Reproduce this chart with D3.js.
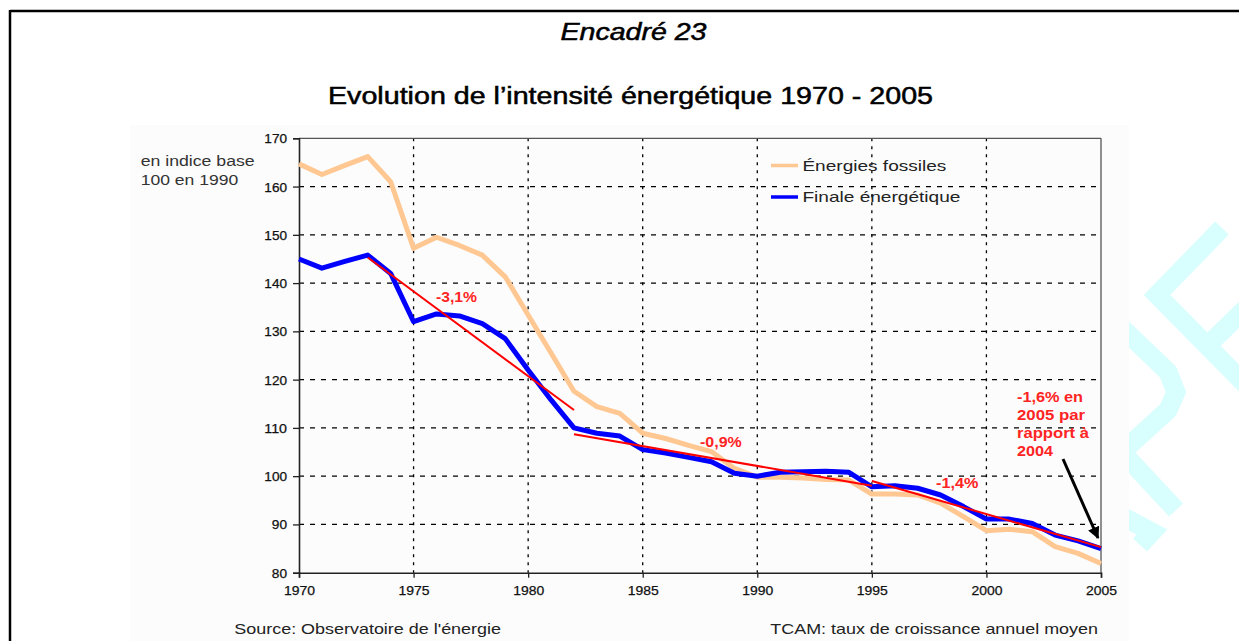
<!DOCTYPE html>
<html>
<head>
<meta charset="utf-8">
<script src="https://cdn.jsdelivr.net/npm/d3@7"></script>
<style>
html,body{margin:0;padding:0;background:#fff;}
svg{display:block;font-family:"Liberation Sans",Arial,sans-serif;}
</style>
</head>
<body>
<svg id="chart" width="1239" height="641"></svg>
<script>
// ---- data ----
const years = [1970,1971,1972,1973,1974,1975,1976,1977,1978,1979,1980,1981,1982,1983,1984,1985,1986,1987,1988,1989,1990,1991,1992,1993,1994,1995,1996,1997,1998,1999,2000,2001,2002,2003,2004,2005];
const fossiles = [164.7,162.5,164.4,166.2,161.0,147.2,149.5,147.8,145.8,141.3,133.4,125.5,117.6,114.4,113.0,108.9,107.8,106.4,105.1,101.6,99.8,99.8,99.6,99.3,99.2,96.3,96.3,96.1,94.4,91.6,88.7,89.0,88.5,85.4,84.0,81.9];
const finale = [145.0,143.1,144.5,145.8,142.0,132.0,133.6,133.2,131.6,128.5,122.0,115.8,110.0,108.9,108.3,105.5,104.8,103.9,103.0,100.6,100.0,100.8,100.9,101.0,100.8,97.8,98.0,97.5,96.1,93.7,91.1,91.1,90.2,87.8,86.6,85.0];
const trendStartYear = [1973,1982,1995];
const trendEndYear = [1982,1995,2005];
const trendStartVal = [145.3,108.7,99.0];
const trendEndVal = [113.7,98.0,85.3];
const trendLabels = ["-3,1%","-0,9%","-1,4%"];
const yTicks = [80,90,100,110,120,130,140,150,160,170];
const xTicks = [1970,1975,1980,1985,1990,1995,2000,2005];
const seriesNames = ["Énergies fossiles","Finale énergétique"];

const svg = d3.select("#chart");
const x = d3.scaleLinear().domain([1970,2005]).range([299,1101]);
const y = d3.scaleLinear().domain([80,170]).range([572.7,138.3]);

// watermark (behind chart image)
const wm = svg.append("g").attr("fill","none").attr("stroke","#d9fefe").attr("stroke-width",19).attr("stroke-linejoin","miter");
wm.append("polyline").attr("points","1222,228 1157,295 1245,384");
wm.append("polyline").attr("points","1208,345 1245,309");
wm.append("polyline").attr("points","1120,326 1168,372 1176,392 1168,410 1122,452 1176,510");
wm.append("polyline").attr("points","1120,515 1152,532 1140,545");

// chart image background
svg.append("rect").attr("x",130).attr("y",125).attr("width",999).attr("height",516).attr("fill","#fcfcfc");

// frame
svg.append("line").attr("x1",10).attr("x2",1239).attr("y1",11).attr("y2",11).attr("stroke","#000").attr("stroke-width",2.5);
svg.append("line").attr("x1",10).attr("x2",10).attr("y1",10).attr("y2",641).attr("stroke","#000").attr("stroke-width",2.5);

// titles
svg.append("text").attr("x",633.5).attr("y",40).attr("text-anchor","middle")
  .attr("font-size",23).attr("font-style","italic").attr("fill","#000")
  .attr("stroke","#000").attr("stroke-width",0.5)
  .attr("textLength",146).attr("lengthAdjust","spacingAndGlyphs").text("Encadré 23");
svg.append("text").attr("x",630.5).attr("y",103.5).attr("text-anchor","middle")
  .attr("font-size",23).attr("fill","#000").attr("stroke","#000").attr("stroke-width",0.5)
  .attr("textLength",605).attr("lengthAdjust","spacingAndGlyphs").text("Evolution de l’intensité énergétique 1970 - 2005");

// gridlines
const grid = svg.append("g");
grid.selectAll("line.h").data(yTicks.filter(d=>d>80 && d<170)).join("line")
  .attr("x1",x(1970)).attr("x2",x(2005)).attr("y1",d=>y(d)).attr("y2",d=>y(d))
  .attr("stroke","#000").attr("stroke-width",1.3).attr("stroke-dasharray","5,6");
grid.selectAll("line.v").data(xTicks.filter(d=>d>1970 && d<2005)).join("line")
  .attr("x1",d=>x(d)).attr("x2",d=>x(d)).attr("y1",y(170)).attr("y2",y(80))
  .attr("stroke","#000").attr("stroke-width",1.3).attr("stroke-dasharray","3,5");

// plot border top/right
svg.append("line").attr("x1",x(1970)).attr("x2",x(2005)).attr("y1",y(170)).attr("y2",y(170)).attr("stroke","#555").attr("stroke-width",1.3);
svg.append("line").attr("x1",x(2005)).attr("x2",x(2005)).attr("y1",y(170)).attr("y2",y(80)).attr("stroke","#555").attr("stroke-width",1.3);

// axes
const yAxis = svg.append("g").attr("transform",`translate(${x(1970)},0)`)
  .call(d3.axisLeft(y).tickValues(yTicks).tickSize(6).tickPadding(6).tickFormat(d3.format("d")));
const xAxis = svg.append("g").attr("transform",`translate(0,${y(80)})`)
  .call(d3.axisBottom(x).tickValues(xTicks).tickSize(5).tickPadding(8).tickFormat(d3.format("d")));
[yAxis,xAxis].forEach(a=>{
  a.select(".domain").attr("stroke","#222").attr("stroke-width",1.6);
  a.selectAll(".tick line").attr("stroke","#222").attr("stroke-width",1.3);
  a.selectAll("text").attr("font-family","Liberation Sans, Arial, sans-serif").attr("fill","#111")
    .attr("stroke","#111").attr("stroke-width",0.25);
});
yAxis.selectAll("text").attr("font-size",12.5).attr("dy","0.36em")
  .attr("textLength",d=>String(d).length===3?22.7:15.2).attr("lengthAdjust","spacingAndGlyphs");
xAxis.selectAll("text").attr("font-size",13).attr("textLength",31).attr("lengthAdjust","spacingAndGlyphs");

// unit label
svg.append("text").attr("x",140.7).attr("y",166).attr("font-size",14).attr("fill","#333")
  .attr("textLength",114).attr("lengthAdjust","spacingAndGlyphs").text("en indice base");
svg.append("text").attr("x",140.7).attr("y",185).attr("font-size",14).attr("fill","#333")
  .attr("textLength",97.6).attr("lengthAdjust","spacingAndGlyphs").text("100 en 1990");

// series
const line = d3.line().x((d,i)=>x(years[i])).y(d=>y(d));
svg.append("path").datum(fossiles).attr("d",line).attr("fill","none")
  .attr("stroke","#FFC792").attr("stroke-width",5).attr("stroke-linejoin","round");
svg.append("path").datum(finale).attr("d",line).attr("fill","none")
  .attr("stroke","#0000FF").attr("stroke-width",5).attr("stroke-linejoin","round");

// trend lines
svg.append("g").selectAll("line").data(trendStartYear).join("line")
  .attr("x1",(d,i)=>x(trendStartYear[i])).attr("y1",(d,i)=>y(trendStartVal[i]))
  .attr("x2",(d,i)=>x(trendEndYear[i])).attr("y2",(d,i)=>y(trendEndVal[i]))
  .attr("stroke","#FF0000").attr("stroke-width",2);

// trend labels
const lblPos = [[436,302.3,41],[700,446.7,41.7],[936,487.7,42.3]];
svg.append("g").selectAll("text").data(trendLabels).join("text")
  .attr("x",(d,i)=>lblPos[i][0]).attr("y",(d,i)=>lblPos[i][1])
  .attr("font-size",14).attr("font-weight","bold").attr("fill","#FF2424")
  .attr("textLength",(d,i)=>lblPos[i][2]).attr("lengthAdjust","spacingAndGlyphs").text(d=>d);

const noteLines = ["-1,6% en","2005 par","rapport à","2004"];
const noteW = [66,68,72,36];
svg.append("g").selectAll("text").data(noteLines).join("text")
  .attr("x",1017).attr("y",(d,i)=>401.5+i*18.3)
  .attr("font-size",14).attr("font-weight","bold").attr("fill","#FF2424")
  .attr("textLength",(d,i)=>noteW[i]).attr("lengthAdjust","spacingAndGlyphs").text(d=>d);

// arrow
svg.append("defs").append("marker").attr("id","ah").attr("viewBox","0 0 10 10")
  .attr("refX",9).attr("refY",5).attr("markerWidth",4.2).attr("markerHeight",4)
  .attr("orient","auto").attr("markerUnits","strokeWidth")
  .append("path").attr("d","M0,0 L10,5 L0,10 Z").attr("fill","#000");
svg.append("line").attr("x1",1063).attr("y1",459).attr("x2",1098).attr("y2",538)
  .attr("stroke","#000").attr("stroke-width",3).attr("marker-end","url(#ah)");

// legend
const legY = [165.5,197];
const legColors = ["#FFC792","#0000FF"];
const legW = [144,158];
const leg = svg.append("g");
leg.selectAll("line").data(seriesNames).join("line")
  .attr("x1",771).attr("x2",798).attr("y1",(d,i)=>legY[i]).attr("y2",(d,i)=>legY[i])
  .attr("stroke",(d,i)=>legColors[i]).attr("stroke-width",3.5);
leg.selectAll("text").data(seriesNames).join("text")
  .attr("x",802.4).attr("y",(d,i)=>legY[i]+5)
  .attr("font-size",15).attr("fill","#222")
  .attr("textLength",(d,i)=>legW[i]).attr("lengthAdjust","spacingAndGlyphs").text(d=>d);

// footer
svg.append("text").attr("x",234.3).attr("y",633.5).attr("font-size",15).attr("fill","#222")
  .attr("textLength",266.7).attr("lengthAdjust","spacingAndGlyphs").text("Source: Observatoire de l'énergie");
svg.append("text").attr("x",770.3).attr("y",633.5).attr("font-size",15).attr("fill","#222")
  .attr("textLength",327.7).attr("lengthAdjust","spacingAndGlyphs").text("TCAM: taux de croissance annuel moyen");
</script>
</body>
</html>
